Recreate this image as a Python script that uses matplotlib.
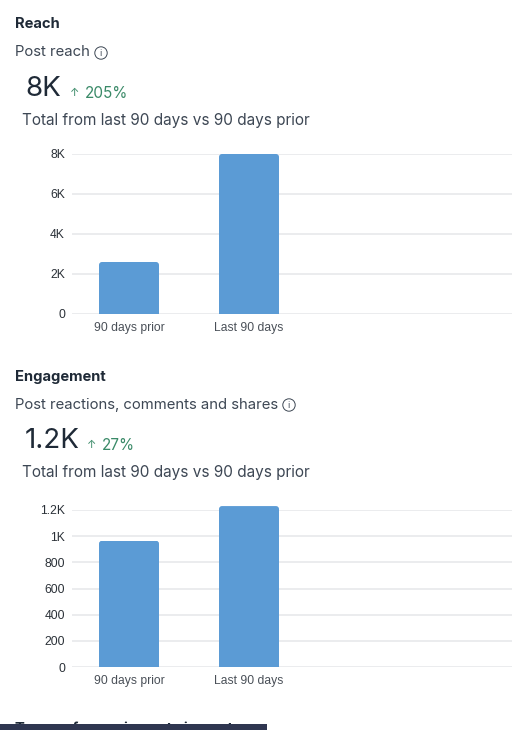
import matplotlib
matplotlib.use("Agg")
import matplotlib.pyplot as plt
from matplotlib.patches import FancyBboxPatch, Circle, Rectangle
from matplotlib.transforms import IdentityTransform

categories = ["90 days prior", "Last 90 days"]
reach_values = [2600, 8000]
reach_ticks = [0, 2000, 4000, 6000, 8000]
reach_labels = ["0", "2K", "4K", "6K", "8K"]
eng_values = [965, 1230]
eng_ticks = [0, 200, 400, 600, 800, 1000, 1200]
eng_labels = ["0", "200", "400", "600", "800", "1K", "1.2K"]

W, H = 520, 730
BAR = "#5b9bd5"
GRID = "#e8e9eb"
DARK = "#1f2a37"
MID = "#3d4754"
GREEN = "#3a8a68"
UI = "Inter"
TICK = "Liberation Sans"

fig = plt.figure(figsize=(W / 100, H / 100), dpi=100, facecolor="white")
bg = fig.add_axes([0, 0, 1, 1])
bg.set_xlim(0, W); bg.set_ylim(H, 0); bg.axis("off")


def chart(values, ticks, labels, top_px, zero_px):
    ax = fig.add_axes([72 / W, 1 - zero_px / H, 440 / W, (zero_px - top_px) / H])
    ax.set_xlim((72 - 129) / 120, (512 - 129) / 120)
    ax.set_ylim(0, ticks[-1])
    ax.patch.set_alpha(0)
    bars = ax.bar(categories, values, width=0.5, color=BAR, zorder=3)
    for s in ax.spines.values():
        s.set_visible(False)
    ax.set_yticks(ticks, labels)
    ax.tick_params(axis="both", length=0)
    ax.tick_params(axis="y", pad=5, labelsize=8.7, labelcolor="#2b3138")
    ax.tick_params(axis="x", pad=6, labelsize=8.7, labelcolor="#4a5058")
    for t in ax.get_xticklabels() + ax.get_yticklabels():
        t.set_fontfamily(TICK)
    ax.grid(axis="y", color=GRID, lw=1.2, zorder=1)
    ax.set_axisbelow(True)
    fig.canvas.draw()
    for b in bars:
        (x0, y0), (x1, y1) = ax.transData.transform(
            [(b.get_x(), 0), (b.get_x() + b.get_width(), b.get_height())])
        r = 3
        clip = FancyBboxPatch((x0 + r, y0 - 20), x1 - x0 - 2 * r, y1 - y0 + 20 - r,
                              boxstyle=f"round,pad={r},rounding_size={r}",
                              transform=IdentityTransform())
        b.set_clip_path(clip)
        b.set_clip_box(None)
    return ax


def header(y0, title, sub, big, pct, info_x, pct_x, big_x):
    bg.text(15, y0 + 0.5, title, family=UI, fontsize=10.6, fontweight="bold", color=DARK, va="center")
    bg.text(15, y0 + 28.5, sub, family=UI, fontsize=10.7, color=MID, va="center")
    bg.add_patch(Circle((info_x, y0 + 29), 6.2, fc="white", ec=MID, lw=0.7))
    bg.text(info_x, y0 + 29, "i", family=UI, fontsize=6.5, color=MID, ha="center", va="center")
    bg.text(big_x, y0 + 65, big, family=UI, fontsize=20, color=DARK, va="center")
    bg.text(pct_x, y0 + 69, "↑", family=["Inter", "DejaVu Sans"], fontsize=8, color=GREEN, va="center")
    bg.text(pct_x + 15, y0 + 69, pct, family=UI, fontsize=11, color=GREEN, va="center")
    bg.text(22, y0 + 97, "Total from last 90 days vs 90 days prior", family=UI,
            fontsize=11.05, color=MID, va="center")


header(24, "Reach", "Post reach", "8K", "205%", 101, 70, 25)
header(376, "Engagement", "Post reactions, comments and shares", "1.2K", "27%", 289, 87, 25)

chart(reach_values, reach_ticks, reach_labels, 154, 314)
chart(eng_values, eng_ticks, eng_labels, 510, 667)

bg.text(15, 729, "Types of organic posts impact", family=UI, fontsize=10.6,
        fontweight="bold", color=DARK, va="center", clip_on=True)
bg.add_patch(Rectangle((0, 724), 267, 6, fc="#2f3650", ec="none", zorder=5))

fig.savefig("out.png", dpi=100)
